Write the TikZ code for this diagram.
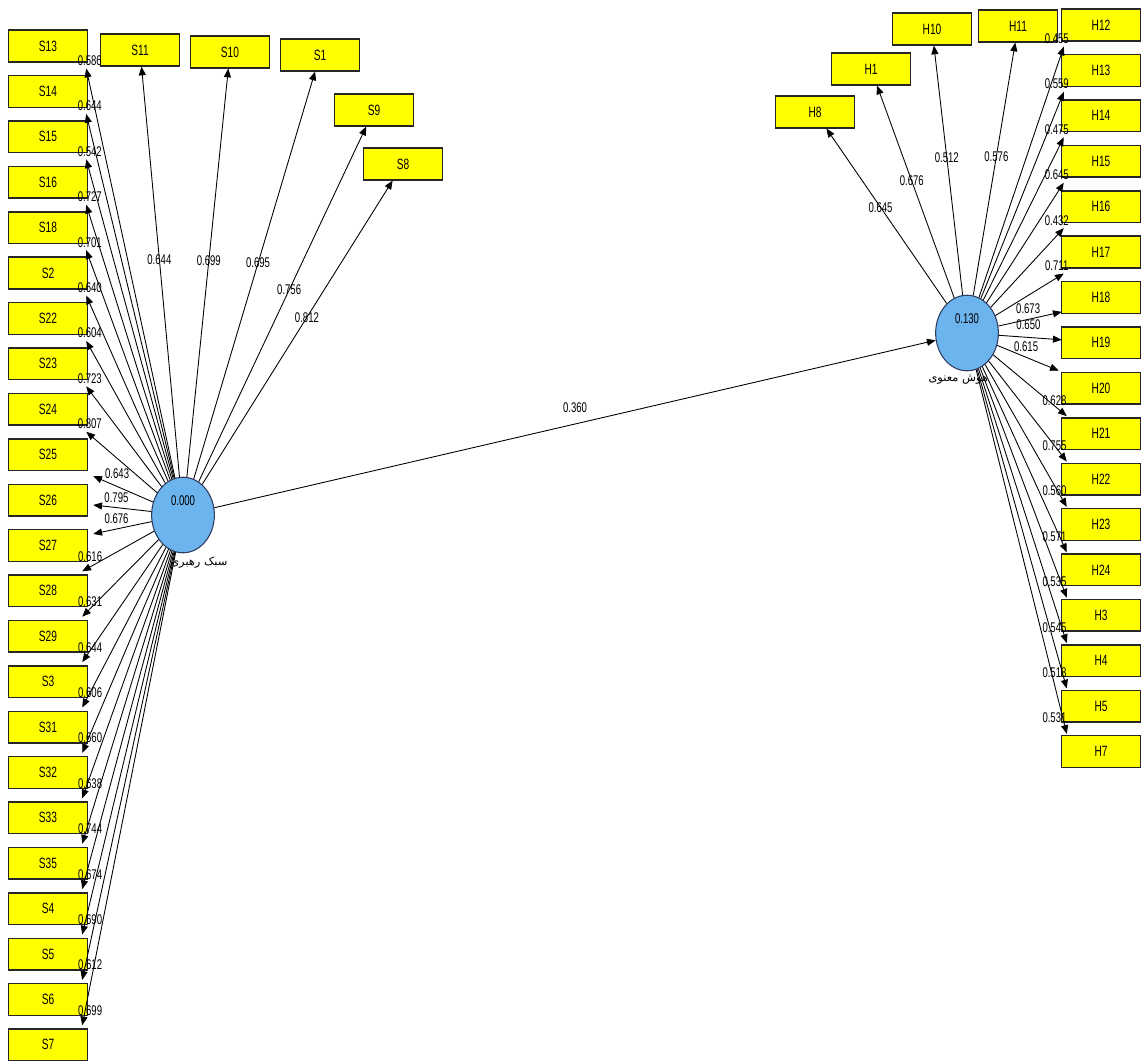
\documentclass[tikz,border=0pt]{standalone}
\usepackage{fontspec}
\setmainfont{Liberation Sans}[FakeStretch=0.68]
\newfontfamily\farsifont[Script=Arabic]{DejaVu Sans}
\TeXXeTstate=1
\usetikzlibrary{shapes.geometric,arrows.meta}
\definecolor{itemfill}{RGB}{255,255,0}
\definecolor{latentfill}{RGB}{108,180,238}
\definecolor{latentdraw}{RGB}{45,60,95}

\begin{document}
\begin{tikzpicture}[x=0.02cm, y=-0.02cm,
  item/.style={shape=rectangle, draw=black!85, fill=itemfill, line width=0.8pt, minimum width=45pt, minimum height=18pt, inner sep=0pt, font=\fontsize{8.5}{9}\selectfont},
  construct/.style={shape=ellipse, draw=latentdraw, fill=latentfill, line width=0.6pt, minimum width=35.7pt, minimum height=43pt, inner sep=0pt, font=\fontsize{8}{9}\selectfont},
  farsi/.style={font=\fontsize{6.5}{7}\farsifont, inner sep=0pt, label distance=2pt},
  loading/.style={-{Triangle[length=5pt,width=4pt]}, line width=0.5pt, draw=black},
  val/.style={font=\fontsize{8}{9}\selectfont, inner sep=0pt}]
\useasboundingbox (0,0) rectangle (1142,1063);
% constructs
\node[construct, label={[farsi, xshift=9pt]below:{\beginR سبک رهبری\endR}}] (S) at (183,515) {\raisebox{5.5pt}[0pt][0pt]{0.000}};
\node[construct, label={[farsi, xshift=-5pt]below:{\beginR هوش معنوی\endR}}] (H) at (967,333) {\raisebox{5.5pt}[0pt][0pt]{0.130}};
% left column
\node[item] (S13) at (48,46) {S13};
\node[item] (S14) at (48,91.4) {S14};
\node[item] (S15) at (48,136.8) {S15};
\node[item] (S16) at (48,182.2) {S16};
\node[item] (S18) at (48,227.6) {S18};
\node[item] (S2) at (48,273) {S2};
\node[item] (S22) at (48,318.4) {S22};
\node[item] (S23) at (48,363.8) {S23};
\node[item] (S24) at (48,409.2) {S24};
\node[item] (S25) at (48,454.6) {S25};
\node[item] (S26) at (48,500) {S26};
\node[item] (S27) at (48,545.4) {S27};
\node[item] (S28) at (48,590.8) {S28};
\node[item] (S29) at (48,636.2) {S29};
\node[item] (S3) at (48,681.6) {S3};
\node[item] (S31) at (48,727) {S31};
\node[item] (S32) at (48,772.4) {S32};
\node[item] (S33) at (48,817.8) {S33};
\node[item] (S35) at (48,863.2) {S35};
\node[item] (S4) at (48,908.6) {S4};
\node[item] (S5) at (48,954) {S5};
\node[item] (S6) at (48,999.4) {S6};
\node[item] (S7) at (48,1044.8) {S7};
% top left
\node[item] (S11) at (140,50) {S11};
\node[item] (S10) at (230,52) {S10};
\node[item] (S1) at (320,55) {S1};
\node[item] (S9) at (374,110) {S9};
\node[item] (S8) at (403,164) {S8};
% right column
\node[item] (H12) at (1101,25) {H12};
\node[item] (H13) at (1101,70.4) {H13};
\node[item] (H14) at (1101,115.8) {H14};
\node[item] (H15) at (1101,161.2) {H15};
\node[item] (H16) at (1101,206.6) {H16};
\node[item] (H17) at (1101,252) {H17};
\node[item] (H18) at (1101,297.4) {H18};
\node[item] (H19) at (1101,342.8) {H19};
\node[item] (H20) at (1101,388.2) {H20};
\node[item] (H21) at (1101,433.6) {H21};
\node[item] (H22) at (1101,479) {H22};
\node[item] (H23) at (1101,524.4) {H23};
\node[item] (H24) at (1101,569.8) {H24};
\node[item] (H3) at (1101,615.2) {H3};
\node[item] (H4) at (1101,660.6) {H4};
\node[item] (H5) at (1101,706) {H5};
\node[item] (H7) at (1101,751.4) {H7};
% top right
\node[item] (H8) at (815,112) {H8};
\node[item] (H1) at (871,69) {H1};
\node[item] (H10) at (932,29) {H10};
\node[item] (H11) at (1018,26) {H11};
% path
\path[loading] (S) edge node[val, above=6pt] {0.360} (H);
% left loadings
\path[loading] (S) edge node[val, at end, xshift=2pt, yshift=4.5pt] {0.586} ([shift={(-2,6)}]S13.south east);
\path[loading] (S) edge node[val, at end, xshift=2pt, yshift=4.5pt] {0.644} ([shift={(-2,6)}]S14.south east);
\path[loading] (S) edge node[val, at end, xshift=2pt, yshift=4.5pt] {0.542} ([shift={(-2,6)}]S15.south east);
\path[loading] (S) edge node[val, at end, xshift=2pt, yshift=4.5pt] {0.727} ([shift={(-2,6)}]S16.south east);
\path[loading] (S) edge node[val, at end, xshift=2pt, yshift=4.5pt] {0.701} ([shift={(-2,6)}]S18.south east);
\path[loading] (S) edge node[val, at end, xshift=2pt, yshift=4.5pt] {0.640} ([shift={(-2,6)}]S2.south east);
\path[loading] (S) edge node[val, at end, xshift=2pt, yshift=4.5pt] {0.604} ([shift={(-2,6)}]S22.south east);
\path[loading] (S) edge node[val, at end, xshift=2pt, yshift=4.5pt] {0.723} ([shift={(-2,6)}]S23.south east);
\path[loading] (S) edge node[val, at end, xshift=2pt, yshift=4.5pt] {0.807} ([shift={(-2,6)}]S24.south east);
\path[loading] (S) edge node[val, pos=0.6, above=4pt] {0.643} ([shift={(5,5)}]S25.south east);
\path[loading] (S) edge node[val, pos=0.6, above=2.5pt] {0.795} ([shift={(5,5)}]S26.east);
\path[loading] (S) edge node[val, pos=0.6, above=3pt] {0.676} ([shift={(5,5)}]S27.north east);
\path[loading] (S) edge node[val, at end, xshift=4.5pt, yshift=8.5pt] {0.616} ([shift={(-6,-3)}]S28.north east);
\path[loading] (S) edge node[val, at end, xshift=4.5pt, yshift=8.5pt] {0.631} ([shift={(-6,-3)}]S29.north east);
\path[loading] (S) edge node[val, at end, xshift=4.5pt, yshift=8.5pt] {0.644} ([shift={(-6,-3)}]S3.north east);
\path[loading] (S) edge node[val, at end, xshift=4.5pt, yshift=8.5pt] {0.606} ([shift={(-6,-3)}]S31.north east);
\path[loading] (S) edge node[val, at end, xshift=4.5pt, yshift=8.5pt] {0.660} ([shift={(-6,-3)}]S32.north east);
\path[loading] (S) edge node[val, at end, xshift=4.5pt, yshift=8.5pt] {0.638} ([shift={(-6,-3)}]S33.north east);
\path[loading] (S) edge node[val, at end, xshift=4.5pt, yshift=8.5pt] {0.744} ([shift={(-6,-3)}]S35.north east);
\path[loading] (S) edge node[val, at end, xshift=4.5pt, yshift=8.5pt] {0.674} ([shift={(-6,-3)}]S4.north east);
\path[loading] (S) edge node[val, at end, xshift=4.5pt, yshift=8.5pt] {0.690} ([shift={(-6,-3)}]S5.north east);
\path[loading] (S) edge node[val, at end, xshift=4.5pt, yshift=8.5pt] {0.612} ([shift={(-6,-3)}]S6.north east);
\path[loading] (S) edge node[val, at end, xshift=4.5pt, yshift=8.5pt] {0.699} ([shift={(-6,-3)}]S7.north east);
% top left loadings
\path[loading] (S) edge node[val, pos=0.53] {0.644} (S11);
\path[loading] (S) edge node[val, pos=0.53] {0.699} (S10);
\path[loading] (S) edge node[val, pos=0.53] {0.695} (S1);
\path[loading] (S) edge node[val, pos=0.54] {0.756} (S9);
\path[loading] (S) edge node[val, pos=0.55] {0.812} (S8);
% top right loadings
\path[loading] (H) edge node[val, pos=0.55] {0.645} (H8);
\path[loading] (H) edge node[val, pos=0.55] {0.676} (H1);
\path[loading] (H) edge node[val, pos=0.55] {0.512} (H10);
\path[loading] (H) edge node[val, pos=0.55] {0.576} (H11);
% right loadings
\path[loading] (H) edge node[val, at end, xshift=-4pt, yshift=4.5pt] {0.455} ([shift={(3,5)}]H12.south west);
\path[loading] (H) edge node[val, at end, xshift=-4pt, yshift=4.5pt] {0.559} ([shift={(3,5)}]H13.south west);
\path[loading] (H) edge node[val, at end, xshift=-4pt, yshift=4.5pt] {0.475} ([shift={(3,5)}]H14.south west);
\path[loading] (H) edge node[val, at end, xshift=-4pt, yshift=4.5pt] {0.645} ([shift={(3,5)}]H15.south west);
\path[loading] (H) edge node[val, at end, xshift=-4pt, yshift=4.5pt] {0.432} ([shift={(3,5)}]H16.south west);
\path[loading] (H) edge node[val, at end, xshift=-4pt, yshift=4.5pt] {0.711} ([shift={(3,5)}]H17.south west);
\path[loading] (H) edge node[val, pos=0.47, above=3pt] {0.673} ([shift={(1,-2)}]H18.south west);
\path[loading] (H) edge node[val, pos=0.47, above=4pt] {0.650} ([shift={(1,-3)}]H19.west);
\path[loading] (H) edge node[val, pos=0.47, above=3pt] {0.615} ([shift={(-2,-1)}]H20.north west);
\path[loading] (H) edge node[val, at end, xshift=-7pt, yshift=9pt] {0.628} ([shift={(6,-1)}]H21.north west);
\path[loading] (H) edge node[val, at end, xshift=-7pt, yshift=9pt] {0.755} ([shift={(6,-1)}]H22.north west);
\path[loading] (H) edge node[val, at end, xshift=-7pt, yshift=9pt] {0.560} ([shift={(6,-1)}]H23.north west);
\path[loading] (H) edge node[val, at end, xshift=-7pt, yshift=9pt] {0.571} ([shift={(6,-1)}]H24.north west);
\path[loading] (H) edge node[val, at end, xshift=-7pt, yshift=9pt] {0.535} ([shift={(6,-1)}]H3.north west);
\path[loading] (H) edge node[val, at end, xshift=-7pt, yshift=9pt] {0.545} ([shift={(6,-1)}]H4.north west);
\path[loading] (H) edge node[val, at end, xshift=-7pt, yshift=9pt] {0.518} ([shift={(6,-1)}]H5.north west);
\path[loading] (H) edge node[val, at end, xshift=-7pt, yshift=9pt] {0.531} ([shift={(6,-1)}]H7.north west);
\end{tikzpicture}
\end{document}
